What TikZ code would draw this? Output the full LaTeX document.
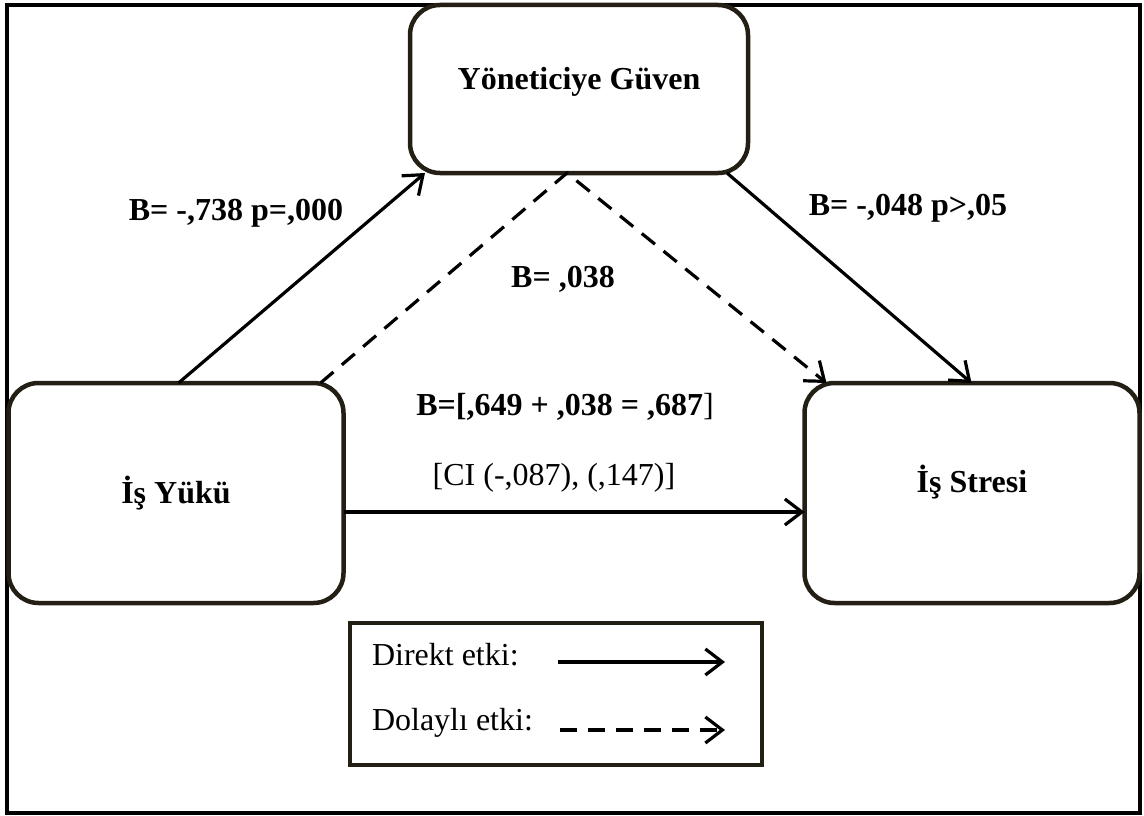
\documentclass[tikz,border=0pt]{standalone}
\usepackage{fontspec}
\setmainfont{Liberation Serif}
\usepackage{tikz}
\usetikzlibrary{
  arrows.meta,
  positioning,
  calc
}
\usepackage{xcolor}
\definecolor{boxline}{rgb}{0.14, 0.12, 0.08}

\begin{document}
\begin{tikzpicture}[
    x=1pt, y=-1pt,
    every node/.style={font=\fontsize{32}{38}\selectfont, inner sep=0pt, outer sep=0pt},
    var/.style={draw=boxline, line width=4.5pt, rounded corners=30pt, font=\fontsize{32}{38}\selectfont\bfseries},
    legbox/.style={draw=boxline, line width=4.5pt},
    coef/.style={anchor=base, font=\fontsize{32}{38}\selectfont\bfseries},
    ed/.style={-{Straight Barb[length=17pt, width=26pt]}, line width=3.2pt},
    ind/.style={ed, dash pattern=on 17pt off 11pt}
  ]
    \useasboundingbox (0,0) rectangle (1144,816);
    % outer frame
    \draw[line width=3.5pt] (7,5) rectangle (1140,813);
    % variables
    \node[var, minimum width=338pt, minimum height=168pt] (guven) at (579,89) {\raisebox{22pt}{Yöneticiye Güven}};
    \node[var, minimum width=335pt, minimum height=220pt] (yuk) at (176,493) {\raisebox{-12pt}{İş Yükü}};
    \node[var, minimum width=335pt, minimum height=220pt] (stres) at (972,493) {\raisebox{28pt}{İş Stresi}};
    % paths
    \draw[ed] ($(yuk.north west)+(170,0)$) -- ($(guven.south west)+(15,0)$);
    \draw[ed] ($(guven.south east)+(-21,0)$) -- ($(stres.north west)+(167,0)$);
    \draw[ind] ($(yuk.north west)+(312,0)$) -- ($(guven.south west)+(157,0)$) -- ($(stres.north west)+(22,0)$);
    \draw[ed] ($(yuk.east)+(0,19)$) -- ($(stres.west)+(0,19)$);
    % coefficients
    \node[coef] (ca) at (236,220) {B= -,738 p=,000};
    \node[coef] (cb) at (908,215) {B= -,048 p>,05};
    \node[coef] (cab) at (563,287) {B= ,038};
    \node[coef] (ctot) at (565,415) {B=[,649 + ,038 = ,687\normalfont]};
    \node[anchor=base] (ci) at (554,485) {[CI (-,087), (,147)]};
    % legend
    \node[legbox, minimum width=412pt, minimum height=142pt] (leg) at (556,694) {};
    \node[anchor=base west] (ldir) at (372,665) {Direkt etki:};
    \node[anchor=base west] (lind) at (372,730) {Dolaylı etki:};
    \coordinate (d1) at (558,662);
    \coordinate (d2) at (725,662);
    \coordinate (i1) at (560,730);
    \coordinate (i2) at (725,730);
    \draw[ed] (d1) -- (d2);
    \draw[ind] (i1) -- (i2);
  \end{tikzpicture}
\end{document}
